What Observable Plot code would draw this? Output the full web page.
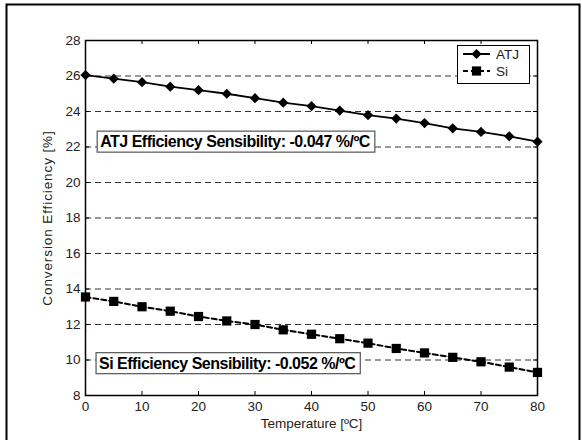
<!DOCTYPE html>
<html>
<head>
<meta charset="utf-8">
<script src="https://cdn.jsdelivr.net/npm/d3@7"></script>
<script src="https://cdn.jsdelivr.net/npm/@observablehq/plot@0.6"></script>
<style>
  body { margin: 0; background: #fff; }
  #chart { position: relative; width: 582px; height: 440px; overflow: hidden; }
</style>
</head>
<body>
<div id="chart"></div>
<script>
const temperatures = [0, 5, 10, 15, 20, 25, 30, 35, 40, 45, 50, 55, 60, 65, 70, 75, 80];
const atjEfficiency = [26.05, 25.85, 25.65, 25.4, 25.2, 25.0, 24.75, 24.5, 24.3, 24.05, 23.8, 23.6, 23.35, 23.05, 22.85, 22.6, 22.3];
const siEfficiency = [13.55, 13.3, 13.0, 12.75, 12.45, 12.2, 12.0, 11.7, 11.45, 11.2, 10.95, 10.65, 10.4, 10.15, 9.9, 9.6, 9.3];
const xTicks = [0, 10, 20, 30, 40, 50, 60, 70, 80];
const yTicks = [8, 10, 12, 14, 16, 18, 20, 22, 24, 26, 28];
const seriesNames = ["ATJ", "Si"];
const annotations = [
  {x: 2.6, y: 22.28, text: "ATJ Efficiency Sensibility: -0.047 %/ºC"},
  {x: 2.4, y: 9.8, text: "Si Efficiency Sensibility: -0.052 %/ºC"}
];

const atjData = temperatures.map((t, i) => ({t, v: atjEfficiency[i]}));
const siData = temperatures.map((t, i) => ({t, v: siEfficiency[i]}));

const W = 582, H = 440, mL = 85, mR = 45, mT = 40, mB = 45;
const pw = W - mL - mR, ph = H - mT - mB;

const plot = Plot.plot({
  width: W, height: H,
  marginLeft: mL, marginRight: mR, marginTop: mT, marginBottom: mB,
  style: {fontFamily: "'Liberation Sans', Arial, sans-serif", fontSize: "13px", color: "#222", background: "transparent"},
  x: {domain: [0, 80]},
  y: {domain: [8, 28]},
  marks: [
    Plot.ruleY(yTicks.slice(1, -1), {stroke: "#333", strokeWidth: 1, strokeDasharray: "6,4"}),
    Plot.axisX(xTicks, {tickSize: 0, tickPadding: 6, fontSize: 13.5, label: "Temperature [ºC]", labelAnchor: "center", labelOffset: 32, labelArrow: "none"}),
    Plot.axisY(yTicks, {tickSize: 0, tickPadding: 5, fontSize: 13.5, label: "Conversion Efficiency [%]", labelAnchor: "center", labelOffset: 43, labelArrow: "none"}),
    Plot.tickY(yTicks, {y: d => d, insetRight: pw - 4, stroke: "#000"}),
    Plot.tickY(yTicks, {y: d => d, insetLeft: pw - 4, stroke: "#000"}),
    Plot.tickX(xTicks, {x: d => d, insetTop: ph - 4, stroke: "#000"}),
    Plot.tickX(xTicks, {x: d => d, insetBottom: ph - 4, stroke: "#000"}),
    Plot.frame({stroke: "#000", strokeWidth: 1.5}),
    Plot.line(atjData, {x: "t", y: "v", stroke: "#000", strokeWidth: 1.8}),
    Plot.line(siData, {x: "t", y: "v", stroke: "#000", strokeWidth: 2, strokeDasharray: "5,3"}),
    Plot.dot(atjData, {x: "t", y: "v", symbol: "diamond2", r: 4.6, fill: "#000"}),
    Plot.dot(siData, {x: "t", y: "v", symbol: "square", r: 5.2, fill: "#000"}),
    Plot.text(annotations, {x: "x", y: "y", text: "text", textAnchor: "start", fontWeight: "bold", fontSize: 16, fill: "#000"})
  ]
});

document.getElementById("chart").appendChild(plot);
const svg = d3.select(plot);

// outer figure border
svg.insert("rect", ":first-child")
  .attr("x", 6.5).attr("y", 4.5).attr("width", 573).attr("height", 460)
  .attr("fill", "#fff").attr("stroke", "#000").attr("stroke-width", 2);

// wider spacing of the y-axis title, as in the original
svg.selectAll('g[aria-label="y-axis label"] text').attr("letter-spacing", "0.9");

// annotation boxes (behind each annotation text)
svg.selectAll('g[aria-label="text"] text').each(function() {
  const t = d3.select(this);
  t.attr("letter-spacing", "-0.5");
  const b = this.getBBox();
  const parent = this.parentNode;
  const r = document.createElementNS("http://www.w3.org/2000/svg", "rect");
  parent.insertBefore(r, parent.firstChild);
  d3.select(r)
    .attr("transform", t.attr("transform"))
    .attr("x", b.x - 3).attr("y", b.y - 2)
    .attr("width", b.width + 7).attr("height", b.height + 4)
    .attr("fill", "#fff").attr("stroke", "#555").attr("stroke-width", 1.2);
});

// legend
const lg = svg.append("g")
  .attr("font-family", "'Liberation Sans', Arial, sans-serif")
  .attr("font-size", 13.5).attr("text-anchor", "start");
lg.append("rect").attr("x", 457.5).attr("y", 45.5).attr("width", 72).attr("height", 38)
  .attr("fill", "#fff").attr("stroke", "#000").attr("stroke-width", 1);
seriesNames.forEach((name, i) => {
  const cy = 54 + i * 17;
  lg.append("line").attr("x1", 463).attr("x2", 490).attr("y1", cy).attr("y2", cy)
    .attr("stroke", "#000").attr("stroke-width", 2).attr("stroke-dasharray", i ? "5,3" : null);
  const sym = d3.symbol().type(i ? d3.symbolSquare : d3.symbolDiamond2).size(i ? 5.2 * 5.2 * Math.PI : 4.6 * 4.6 * Math.PI);
  lg.append("path").attr("d", sym()).attr("transform", `translate(476.5,${cy})`).attr("fill", "#000");
  lg.append("text").attr("x", 496).attr("y", cy).attr("dy", "0.35em").attr("fill", "#222").text(name);
});
</script>
</body>
</html>
